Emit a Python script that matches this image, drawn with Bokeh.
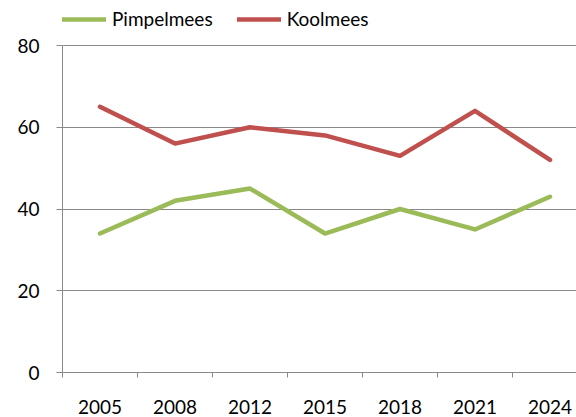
from bokeh.plotting import figure
from bokeh.models import Range1d, FixedTicker, Legend, LegendItem, ColumnDataSource
from bokeh.embed import file_html
from bokeh.resources import INLINE

years = ["2005", "2008", "2012", "2015", "2018", "2021", "2024"]
pimpelmees = [34, 42, 45, 34, 40, 35, 43]
koolmees = [65, 56, 60, 58, 53, 64, 52]
y_ticks = [0, 20, 40, 60, 80]

GREEN = "#9BBB59"
RED = "#C0504D"
GRAY = "#898989"
FONT = "Lato"
FS = "19px"

n = len(years)
xc = [i + 0.5 for i in range(n)]
src = ColumnDataSource(dict(x=xc, p=pimpelmees, k=koolmees))

FW, FH = 514, 372
PX_PER_UNIT = 4.0875
p = figure(width=576, height=417, frame_width=FW, frame_height=FH,
           min_border_left=62, min_border_right=0,
           min_border_top=0, min_border_bottom=45,
           x_range=Range1d(0, FW / 75.0), y_range=Range1d(0, FH / PX_PER_UNIT),
           output_backend="svg", toolbar_location=None)
p.outline_line_color = None
p.background_fill_color = "white"

r1 = p.line("x", "p", source=src, line_color=GREEN, line_width=4.5,
            line_cap="round", line_join="round")
r2 = p.line("x", "k", source=src, line_color=RED, line_width=4.5,
            line_cap="round", line_join="round")

# x axis
xa = p.xaxis[0]
xa.ticker = FixedTicker(ticks=xc, minor_ticks=list(range(n)))
xa.major_label_overrides = {xv: yr for xv, yr in zip(xc, years)}
xa.major_tick_out = 0
xa.major_tick_in = 0
xa.minor_tick_out = 5
xa.minor_tick_in = 0
xa.minor_tick_line_color = GRAY
xa.axis_line_color = GRAY
xa.major_label_standoff = 22
xa.major_label_text_font = FONT
xa.major_label_text_font_size = FS
xa.major_label_text_color = "#000000"

# y axis
ya = p.yaxis[0]
ya.ticker = FixedTicker(ticks=y_ticks)
ya.bounds = (y_ticks[0], y_ticks[-1])
ya.major_tick_out = 6
ya.major_tick_in = 0
ya.minor_tick_out = 0
ya.minor_tick_in = 0
ya.major_tick_line_color = GRAY
ya.axis_line_color = GRAY
ya.major_label_standoff = 17
ya.major_label_text_font = FONT
ya.major_label_text_font_size = FS
ya.major_label_text_color = "#000000"

p.xgrid.visible = False
p.ygrid.ticker = FixedTicker(ticks=y_ticks)
p.ygrid.grid_line_color = GRAY
p.ygrid.grid_line_width = 1

legend = Legend(items=[LegendItem(label="Pimpelmees", renderers=[r1]),
                       LegendItem(label="Koolmees", renderers=[r2])],
                orientation="horizontal", location=(0, FH - 30),
                glyph_width=44, glyph_height=20, label_standoff=6,
                spacing=24, padding=0, margin=0,
                border_line_alpha=0, background_fill_alpha=0,
                label_text_font=FONT, label_text_font_size=FS,
                label_text_color="#000000")
p.add_layout(legend, "center")

open("out.html", "w").write(file_html(p, INLINE))
